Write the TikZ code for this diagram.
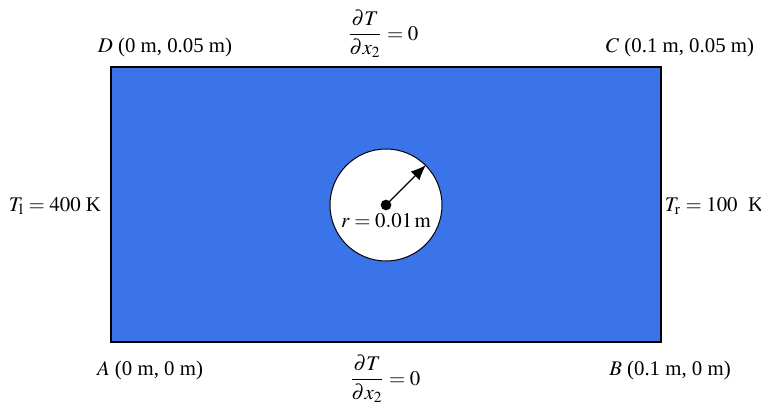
\documentclass[tikz,border=0pt]{standalone}
\usepackage{amsmath}
\usepackage{mathptmx}
\usepackage{fontspec}
\setmainfont{Liberation Serif}
\usetikzlibrary{arrows.meta, positioning}
\definecolor{plateblue}{RGB}{59,115,232}
\tikzset{
  % Plate and hole
  plate/.style={draw=black, line width=1.2pt, fill=plateblue},
  hole/.style={circle, draw=black, line width=0.6pt, fill=white, minimum size=67.2pt, inner sep=0pt},
  % Labels
  corner/.style={font=\fontsize{12.5}{14}\selectfont, inner sep=1pt},
  bc/.style={font=\fontsize{12.5}{14}\selectfont, inner sep=1pt},
  arrow/.style={-{Latex[length=3.2mm, width=2.6mm]}, line width=0.8pt},
}
\begin{document}
\begin{tikzpicture}[x=0.6pt, y=-0.6pt]
    \useasboundingbox (0,0) rectangle (761,405);

    % Plate
    \coordinate (A) at (111,342);
    \coordinate (C) at (661,67);
    \draw[plate] (A) rectangle (C);

    % Hole
    \node[hole] (hole) at (386,205) {};
    \fill (hole.center) circle (3.2pt);
    \draw[arrow] (hole.center) -- (hole.45);
    \node[corner] (rlabel) at (386,221) {$r = 0.01\,\mathrm{m}$};

    % Corners
    \node[corner] (Dlabel) at (165,47) {$D$ (0 m, 0.05 m)};
    \node[corner] (Clabel) at (680,47) {$C$ (0.1 m, 0.05 m)};
    \node[corner] (Alabel) at (150,370) {$A$ (0 m, 0 m)};
    \node[corner] (Blabel) at (670,370) {$B$ (0.1 m, 0 m)};

    % Boundary conditions
    \node[bc] (top) at (383,34) {$\dfrac{\partial T}{\partial x_2} = 0$};
    \node[bc] (bottom) at (385,379) {$\dfrac{\partial T}{\partial x_2} = 0$};
    \node[bc] (left) at (55,206) {$T_\mathrm{l} = 400$ K};
    \node[bc] (right) at (714,206) {$T_\mathrm{r} = 100$~~K};
\end{tikzpicture}
\end{document}
